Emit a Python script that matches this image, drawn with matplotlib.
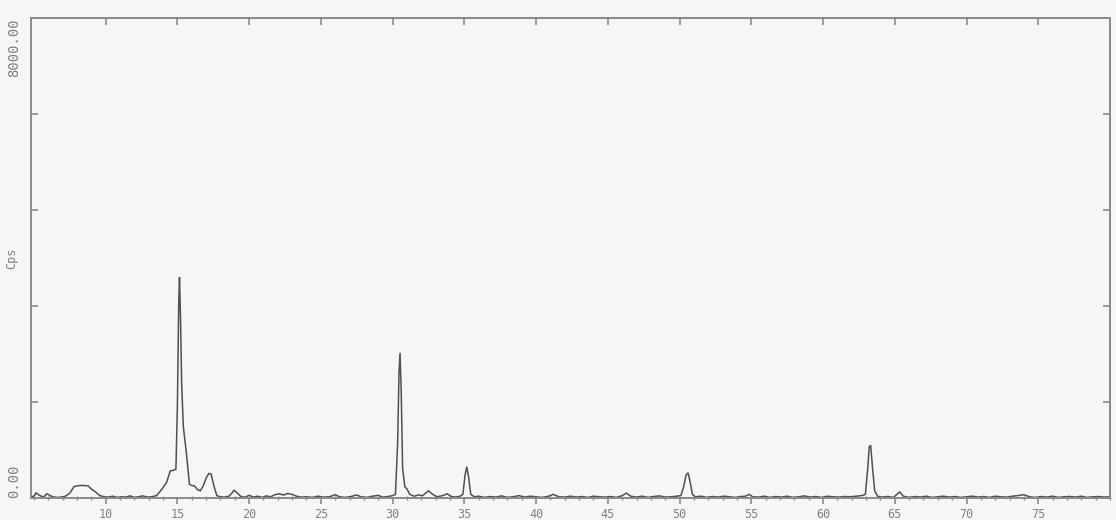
import matplotlib
matplotlib.use("Agg")
import matplotlib.pyplot as plt
from matplotlib.ticker import MultipleLocator, FixedLocator

# Diffractogram: 2-theta (degrees) and intensity (counts per second)
two_theta = [
    4.8, 5.0, 5.15, 5.3, 5.5, 5.7, 5.9, 6.1, 6.3, 6.6, 6.9, 7.2, 7.5, 7.8, 8.1, 8.4, 8.8, 9.0, 9.3, 9.6, 9.9,
    10.2, 10.5, 10.8, 11.1, 11.4, 11.7, 12.0, 12.3, 12.6, 12.9, 13.2, 13.55, 13.8, 14.05, 14.25, 14.5, 14.7, 14.9,
    15.0, 15.1, 15.15, 15.22, 15.3, 15.42, 15.63, 15.84, 16.0, 16.2, 16.4, 16.6, 16.8, 17.0, 17.2, 17.35, 17.55, 17.75, 18.0,
    18.3, 18.6, 18.8, 18.95, 19.15, 19.4, 19.7, 20.0, 20.3, 20.6, 20.9, 21.2, 21.5, 21.8, 22.1, 22.4, 22.7, 23.0, 23.3, 23.6,
    24.0, 24.4, 24.8, 25.2, 25.6, 26.0, 26.3, 26.7, 27.1, 27.5, 27.8, 28.2, 28.6, 29.0, 29.3, 29.7, 30.0,
    30.2, 30.35, 30.45, 30.52, 30.6, 30.7, 30.85, 31.0, 31.2, 31.5, 31.8, 32.1, 32.5, 32.8, 33.1, 33.5, 33.8, 34.1, 34.4, 34.7,
    34.9, 35.05, 35.17, 35.3, 35.45, 35.7, 36.0, 36.4, 36.8, 37.2, 37.6, 38.0, 38.4, 38.8, 39.2, 39.6, 40.0, 40.4, 40.8, 41.2, 41.6, 42.0,
    42.4, 42.8, 43.2, 43.6, 44.0, 44.4, 44.8, 45.2, 45.6, 46.0, 46.3, 46.6, 47.0, 47.4, 47.8, 48.2, 48.6, 49.0, 49.4, 49.8,
    50.1, 50.3, 50.45, 50.6, 50.75, 50.9, 51.1, 51.5, 51.9, 52.3, 52.7, 53.1, 53.5, 53.9, 54.3, 54.6, 54.85, 55.1, 55.5, 55.9,
    56.3, 56.7, 57.1, 57.5, 57.9, 58.3, 58.7, 59.1, 59.5, 59.9, 60.3, 60.7, 61.1, 61.5, 61.9, 62.3, 62.7,
    62.95, 63.1, 63.22, 63.32, 63.45, 63.6, 63.8, 64.1, 64.5, 64.9, 65.15, 65.35, 65.6, 66.0, 66.4, 66.8, 67.2, 67.6, 68.0,
    68.4, 68.8, 69.2, 69.6, 70.0, 70.4, 70.8, 71.2, 71.6, 72.0, 72.4, 72.8, 73.2, 73.6, 74.0, 74.4, 74.8, 75.2, 75.6, 76.0,
    76.4, 76.8, 77.2, 77.6, 78.0, 78.4, 78.8, 79.2, 79.6, 80.0,
]
cps = [
    20, 30, 85, 60, 30, 20, 70, 45, 20, 10, 15, 30, 80, 190, 205, 210, 200, 150, 100, 40, 20,
    15, 30, 10, 20, 15, 35, 10, 20, 35, 15, 20, 40, 110, 190, 260, 450, 460, 480,
    1500, 3300, 3680, 3000, 1900, 1180, 750, 230, 210, 200, 140, 120, 200, 330, 410, 400, 200, 40, 20,
    15, 30, 80, 130, 90, 30, 10, 45, 15, 30, 10, 35, 20, 55, 70, 50, 75, 60, 30, 15,
    20, 10, 30, 15, 20, 55, 20, 10, 25, 50, 20, 10, 30, 45, 15, 25, 40,
    60, 900, 2100, 2420, 1800, 500, 190, 150, 60, 30, 50, 40, 120, 60, 20, 40, 70, 25, 15, 30,
    60, 380, 520, 350, 60, 20, 30, 10, 25, 15, 35, 10, 20, 40, 15, 30, 20, 10, 25, 60, 20, 15,
    30, 15, 25, 10, 30, 20, 15, 25, 10, 40, 80, 30, 15, 30, 10, 25, 35, 15, 20, 30,
    40, 200, 380, 420, 250, 60, 20, 30, 10, 25, 15, 30, 20, 10, 25, 30, 60, 20, 15, 30,
    10, 25, 15, 30, 10, 20, 35, 15, 25, 10, 30, 20, 15, 25, 20, 30, 40,
    60, 450, 850, 880, 500, 120, 30, 15, 25, 10, 60, 100, 30, 10, 25, 15, 30, 10, 20,
    30, 15, 25, 10, 20, 30, 15, 25, 10, 30, 20, 15, 30, 40, 55, 20, 10, 25, 15, 30,
    10, 20, 25, 15, 30, 10, 20, 25, 15, 20,
]
assert len(two_theta) == len(cps)

x_major = [10, 15, 20, 25, 30, 35, 40, 45, 50, 55, 60, 65, 70, 75]
y_ticks = [0, 1600, 3200, 4800, 6400, 8000]
y_labels = ["0.00", "", "", "", "", "8000.00"]

W, H = 1116, 520
bg = "#f6f6f6"
axis_col = "#8a8a8a"
text_col = "#808080"

fig = plt.figure(figsize=(W / 100, H / 100), dpi=100, facecolor=bg)
ax = fig.add_axes([31 / W, 22 / H, (1110 - 31) / W, (498 - 18) / H], facecolor=bg)

ax.plot(two_theta, cps, color="#505050", lw=1.1, solid_joinstyle="miter")

ax.set_xlim(4.8, 80.0)
ax.set_ylim(0, 8000)

for s in ax.spines.values():
    s.set_color(axis_col)
    s.set_linewidth(1.4)

# x axis: labelled majors every 5 degrees, small marks every degree
ax.xaxis.set_major_locator(FixedLocator(x_major))
ax.xaxis.set_minor_locator(MultipleLocator(1))
ax.set_xticklabels([str(v) for v in x_major], family="DejaVu Sans Mono",
                   fontsize=8.5, color=text_col)
ax.tick_params(axis="x", which="major", direction="out", length=4, width=1.2,
               color=axis_col, pad=3)
ax.tick_params(axis="x", which="minor", direction="inout", length=3, width=1.0,
               color=axis_col)

# inward marks along the top edge
top = ax.secondary_xaxis("top")
top.set_xticks(x_major)
top.tick_params(direction="in", length=5, width=1.2, color=axis_col,
                labeltop=False)
top.spines["top"].set_visible(False)

# y axis: inward ticks on both sides, only the end values labelled
ax.set_yticks(y_ticks)
ax.set_yticklabels(y_labels, family="DejaVu Sans Mono", fontsize=10,
                   color=text_col, rotation=90)
ax.tick_params(axis="y", direction="in", length=5, width=1.2, color=axis_col,
               right=True, pad=7)
labels = ax.get_yticklabels()
labels[0].set_va("bottom")
labels[-1].set_va("top")

ax.set_ylabel("Cps", family="DejaVu Sans Mono", fontsize=8.5, color=text_col)
ax.yaxis.set_label_coords(-13 / (1110 - 31), 0.5)

fig.savefig("out.png", dpi=100, facecolor=bg)
